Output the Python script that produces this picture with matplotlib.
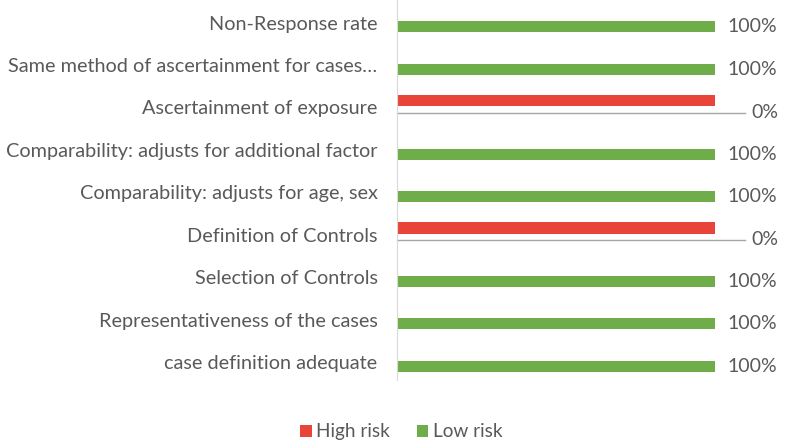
import matplotlib.pyplot as plt
import numpy as np

plt.rcParams["font.family"] = ["Lato", "DejaVu Sans"]

categories = [
    "Non-Response rate",
    "Same method of ascertainment for cases\u2026",
    "Ascertainment of exposure",
    "Comparability: adjusts for additional factor",
    "Comparability: adjusts for age, sex",
    "Definition of Controls",
    "Selection of Controls",
    "Representativeness of the cases",
    "case definition adequate",
]
high_risk = [0, 0, 100, 0, 0, 100, 0, 0, 0]
low_risk = [100, 100, 0, 100, 100, 0, 100, 100, 100]

red = "#E8443A"
green = "#6FAC4A"
grey_text = "#595959"

fig = plt.figure(figsize=(7.87, 4.42), dpi=100)
ax = fig.add_axes([397 / 787, 1 - 380 / 442, 318 / 787, 380 / 442])

y = np.arange(len(categories))
h = 0.26
ax.barh(y - h / 2, high_risk, height=h, color=red, label="High risk")
ax.barh(y + h / 2, low_risk, height=h, color=green, label="Low risk")

# data labels for low risk series
for yi, v in zip(y, low_risk):
    if v > 0:
        ax.text(103.8, yi + h / 2, f"{v}%", va="center", ha="left",
                fontsize=14, color=grey_text, clip_on=False)
    else:
        ax.plot([0, 109.5], [yi + h / 2 + 0.02] * 2, color="#A6A6A6",
                lw=1, clip_on=False)
        ax.text(111.5, yi + h / 2 + 0.02, f"{v}%", va="center", ha="left",
                fontsize=14, color=grey_text, clip_on=False)

ax.set_xlim(0, 100)
ax.set_ylim(8.45, -0.5)
ax.set_yticks(y + 0.03)
ax.set_yticklabels(categories, fontsize=14.3, color=grey_text)
ax.tick_params(axis="y", length=0, pad=14)
ax.set_xticks([])
for s in ["top", "right", "bottom"]:
    ax.spines[s].set_visible(False)
ax.spines["left"].set_color("#D9D9D9")

fig.legend(loc="lower center", bbox_to_anchor=(0.51, -0.035), ncol=2,
           frameon=False, fontsize=13.7, handlelength=0.6, handleheight=0.6,
           columnspacing=1.4, handletextpad=0.25, labelcolor=grey_text)

fig.savefig("out.png", dpi=100)
